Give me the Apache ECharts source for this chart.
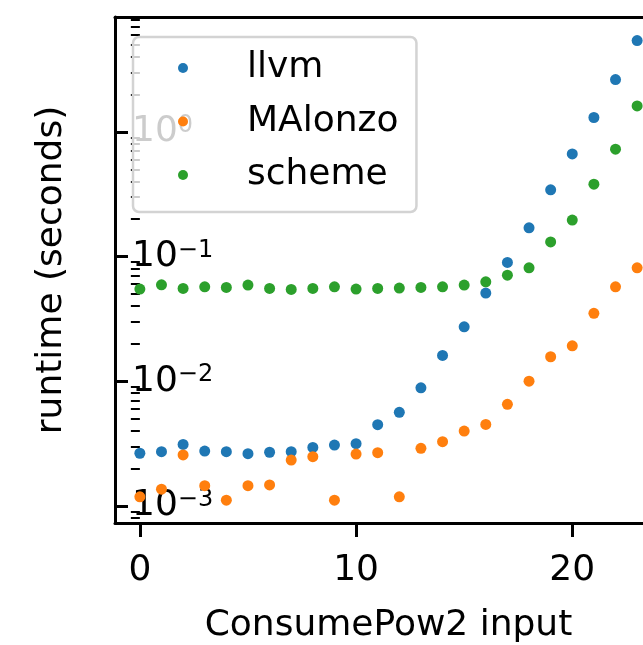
<!DOCTYPE html>
<html>
<head>
<meta charset="utf-8">
<script src="https://cdn.jsdelivr.net/npm/echarts@6/dist/echarts.min.js"></script>
<style>html,body{margin:0;padding:0;background:#fff;}#chart{width:643px;height:645px;}</style>
</head>
<body>
<div id="chart"></div>
<script>
const xInputs = [0,1,2,3,4,5,6,7,8,9,10,11,12,13,14,15,16,17,18,19,20,21,22,23];
const llvm = [0.00264,0.00272,0.00311,0.00275,0.00272,0.00262,0.00269,0.00272,0.00294,0.00307,0.00315,0.00448,0.00562,0.00885,0.0161,0.0273,0.0509,0.0897,0.170,0.343,0.666,1.305,2.63,5.41];
const malonzo = [0.00118,0.00136,0.00256,0.00145,0.00111,0.00145,0.00147,0.00233,0.00248,0.00111,0.00260,0.00267,0.00118,0.00289,0.00327,0.00398,0.00450,0.00652,0.0100,0.0157,0.0192,0.0350,0.0571,0.0812];
const scheme = [0.0548,0.0593,0.0555,0.0571,0.0565,0.0590,0.0555,0.0545,0.0555,0.0571,0.0548,0.0555,0.0558,0.0565,0.0571,0.0590,0.0627,0.0709,0.0812,0.131,0.196,0.381,0.727,1.616];
const seriesNames = ['llvm','MAlonzo','scheme'];
const xTickValues = [0,10,20];
const yMajorTicks = [0.001,0.01,0.1,1];
const yMinorTicks = [0.0008,0.0009,0.002,0.003,0.004,0.005,0.006,0.007,0.008,0.009,0.02,0.03,0.04,0.05,0.06,0.07,0.08,0.09,0.2,0.3,0.4,0.5,0.6,0.7,0.8,0.9,2,3,4,5,6,7,8];

const FONT = 'DejaVu Sans';
const colors = ['#1f77b4','#ff7f0e','#2ca02c'];
const yMin = Math.pow(10,-3.138), yMax = Math.pow(10,0.922);
const xMin = -1.15, xMax = 24.15;

function pairs(vals){ return xInputs.map((x,i)=>[x, vals[i]]); }
function supLabel(v){
  const e = Math.round(Math.log10(v));
  const s = e < 0 ? '\u2212' + (-e) : String(e);
  return '{b|10}{s|' + s + '}';
}

const chart = echarts.init(document.getElementById('chart'), null, {renderer:'canvas'});
chart.setOption({
  animation:false,
  backgroundColor:'#ffffff',
  color: colors,
  grid:{left:115, top:17, width:547, height:506, containLabel:false, outerBoundsMode:'none'},
  legend:{
    data: seriesNames,
    orient:'vertical',
    left:133, top:37,
    padding:[11,18,17,45],
    itemGap:13.5,
    itemWidth:10, itemHeight:10,
    icon:'circle',
    backgroundColor:'rgba(255,255,255,0.8)',
    borderColor:'#d3d3d3',
    borderWidth:2.5,
    borderRadius:6,
    textStyle:{fontFamily:FONT, fontSize:36, color:'#000', lineHeight:40, padding:[0,0,0,54]},
    z:10
  },
  xAxis:[{
    type:'value', min:xMin, max:xMax, position:'bottom',
    name:'ConsumePow2 input', nameLocation:'middle', nameGap:85,
    nameTextStyle:{fontFamily:FONT, fontSize:36, color:'#000'},
    axisLine:{show:true, lineStyle:{color:'#000', width:3}},
    axisTick:{show:true, inside:false, length:14, lineStyle:{color:'#000', width:3}, customValues:xTickValues},
    axisLabel:{show:true, margin:30, fontFamily:FONT, fontSize:36, color:'#000', customValues:xTickValues},
    splitLine:{show:false}
  },{
    type:'value', min:xMin, max:xMax, position:'top',
    axisLine:{show:true, onZero:false, lineStyle:{color:'#000', width:3}},
    axisTick:{show:false}, axisLabel:{show:false}, splitLine:{show:false}
  }],
  yAxis:[{
    type:'log', logBase:10, min:yMin, max:yMax, position:'left',
    name:'runtime (seconds)', nameLocation:'middle', nameGap:45,
    nameTextStyle:{fontFamily:FONT, fontSize:36, color:'#000'},
    axisLine:{show:true, onZero:false, lineStyle:{color:'#000', width:3}},
    axisTick:{show:true, inside:true, length:13, lineStyle:{color:'#000', width:3}, customValues:yMajorTicks},
    axisLabel:{show:true, inside:true, margin:17, customValues:yMajorTicks,
      formatter:supLabel,
      rich:{
        b:{fontFamily:FONT, fontSize:36, color:'#000', lineHeight:36},
        s:{fontFamily:FONT, fontSize:24, color:'#000', lineHeight:24, verticalAlign:'top'}
      }},
    splitLine:{show:false}, minorTick:{show:false}
  },{
    type:'log', logBase:10, min:yMin, max:yMax, position:'left',
    axisLine:{show:false},
    axisTick:{show:true, inside:false, length:9, lineStyle:{color:'#000', width:2}, customValues:yMinorTicks},
    axisLabel:{show:false}, splitLine:{show:false}
  }],
  series: [llvm, malonzo, scheme].map((vals,i)=>({
    name: seriesNames[i], type:'scatter', xAxisIndex:0, yAxisIndex:0,
    symbol:'circle', symbolSize:11,
    itemStyle:{color:colors[i], opacity:1},
    data: pairs(vals)
  }))
});
</script>
</body>
</html>
